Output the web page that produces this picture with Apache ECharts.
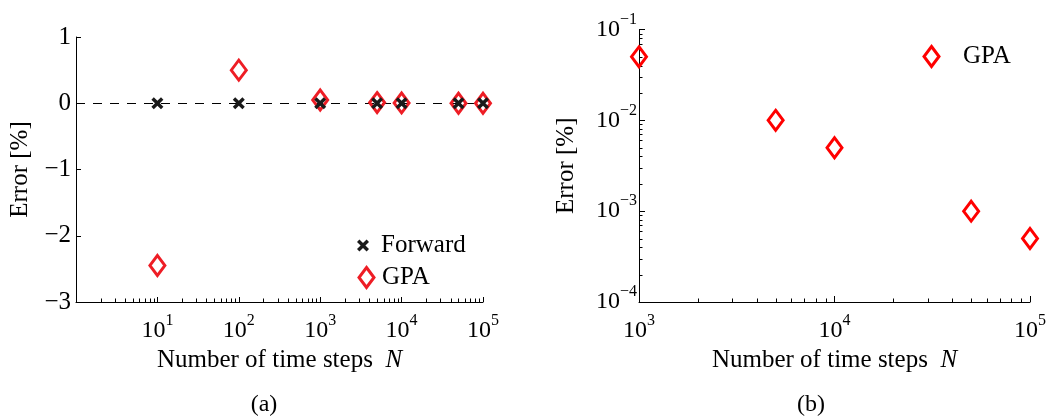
<!DOCTYPE html>
<html>
<head>
<meta charset="utf-8">
<title>Error vs number of time steps</title>
<script src="https://cdn.jsdelivr.net/npm/echarts@6/dist/echarts.min.js"></script>
<style>
  html, body { margin: 0; padding: 0; background: #fff; }
  #chart { width: 1050px; height: 416px; }
</style>
</head>
<body>
<div id="chart"></div>
<script>
// (a) signed error of both methods, (b) GPA error on log-log scale
const stepsA = [10, 100, 1000, 5000, 10000, 50000, 100000];
const forwardErrA = [0, 0, 0, 0, 0, 0, 0];
const gpaErrA = [-2.45, 0.5, 0.05, 0.01, 0.005, 0.001, 0.0005];

const stepsB = [1000, 5000, 10000, 50000, 100000];
const gpaErrB = [0.05, 0.01, 0.005, 0.001, 0.0005];

const FONT = '"Liberation Serif", "DejaVu Serif", serif';
const RED_A = '#ee1d25';
const RED_B = '#ff0000';
const CROSS = 'path://M0,2L2,0L5,3L8,0L10,2L7,5L10,8L8,10L5,7L2,10L0,8L3,5Z';

// minor tick positions (2..9 within each decade)
function minorTicks(fromExp, toExp) {
  const out = [];
  for (let e = fromExp; e < toExp; e++) {
    for (let m = 2; m <= 9; m++) out.push(m * Math.pow(10, e));
  }
  return out;
}

const powLabel = v => {
  const e = Math.round(Math.log10(v));
  return '{b|10}{s|' + String(e).replace('-', '\u2212') + '}';
};
const powRich = {
  b: { fontFamily: FONT, fontSize: 24, lineHeight: 36, color: '#000' },
  s: { fontFamily: FONT, fontSize: 16, lineHeight: 16, verticalAlign: 'top', color: '#000' }
};

const axisLine = { show: true, onZero: false, lineStyle: { color: '#000', width: 1 } };
const nameStyle = {
  fontFamily: FONT, fontSize: 25, color: '#000',
  rich: { i: { fontFamily: FONT, fontSize: 25, fontStyle: 'italic', color: '#000' } }
};

function xTickSeries(xi, yi, values, yBase) {
  return {
    type: 'custom', xAxisIndex: xi, yAxisIndex: yi, silent: true, clip: false, z: 1,
    data: values.map(v => [v, yBase]),
    renderItem: (params, api) => {
      const p = api.coord([api.value(0), api.value(1)]);
      const x = Math.round(p[0]) + 0.5;
      return { type: 'line', shape: { x1: x, y1: p[1], x2: x, y2: p[1] - 3.5 },
               style: { stroke: '#000', lineWidth: 1 } };
    }
  };
}
function yTickSeries(xi, yi, values, xBase) {
  return {
    type: 'custom', xAxisIndex: xi, yAxisIndex: yi, silent: true, clip: false, z: 1,
    data: values.map(v => [xBase, v]),
    renderItem: (params, api) => {
      const p = api.coord([api.value(0), api.value(1)]);
      const y = Math.round(p[1]) + 0.5;
      return { type: 'line', shape: { x1: p[0], y1: y, x2: p[0] + 3.5, y2: y },
               style: { stroke: '#000', lineWidth: 1 } };
    }
  };
}

const legendText = pad => ({ fontFamily: FONT, fontSize: 25, color: '#000', padding: [0, 0, 0, pad] });

const chart = echarts.init(document.getElementById('chart'), null, { renderer: 'canvas' });

chart.setOption({
  backgroundColor: '#fff',
  animation: false,
  textStyle: { fontFamily: FONT },
  grid: [
    { left: 76, top: 37, width: 407, height: 265, containLabel: false },
    { left: 639, top: 29.5, width: 391, height: 272.5, containLabel: false }
  ],
  xAxis: [
    {
      type: 'log', logBase: 10, min: 1, max: 100000, gridIndex: 0,
      axisLine, splitLine: { show: false },
      axisTick: { show: true, inside: true, length: 5, lineStyle: { color: '#000' } },
      axisLabel: {
        margin: 11, color: '#000',
        formatter: v => (Math.round(Math.log10(v)) === 0 ? '' : powLabel(v)),
        rich: powRich
      },
      name: 'Number of time steps  {i|N}', nameLocation: 'middle', nameGap: 43,
      nameTextStyle: nameStyle
    },
    {
      type: 'log', logBase: 10, min: 1000, max: 100000, gridIndex: 1,
      axisLine, splitLine: { show: false },
      axisTick: { show: true, inside: true, length: 6, lineStyle: { color: '#000' } },
      axisLabel: { margin: 11, color: '#000', formatter: powLabel, rich: powRich },
      name: 'Number of time steps  {i|N}', nameLocation: 'middle', nameGap: 43,
      nameTextStyle: nameStyle
    }
  ],
  yAxis: [
    {
      type: 'value', min: -3, max: 1, interval: 1, gridIndex: 0,
      axisLine, splitLine: { show: false },
      axisTick: { show: true, inside: true, length: 5, lineStyle: { color: '#000' } },
      axisLabel: {
        margin: 5, color: '#000', fontFamily: FONT, fontSize: 25,
        formatter: v => String(v).replace('-', '\u2212')
      },
      name: 'Error [%]', nameLocation: 'middle', nameGap: 43, nameRotate: 90,
      nameTextStyle: nameStyle
    },
    {
      type: 'log', logBase: 10, min: 0.0001, max: 0.1, gridIndex: 1,
      axisLine, splitLine: { show: false },
      axisTick: { show: true, inside: true, length: 6, lineStyle: { color: '#000' } },
      axisLabel: { margin: 2, color: '#000', formatter: powLabel, rich: powRich },
      name: 'Error [%]', nameLocation: 'middle', nameGap: 60, nameRotate: 90,
      nameTextStyle: nameStyle
    }
  ],
  legend: [
    {
      data: [{ name: 'Forward', itemStyle: { color: '#1a1a1a', opacity: 1 } }],
      orient: 'vertical', left: 352, top: 228,
      itemWidth: 20, itemHeight: 12, selectedMode: false,
      textStyle: legendText(3)
    },
    {
      data: [{ name: 'GPA', itemStyle: { color: 'rgba(0,0,0,0)', borderColor: RED_A, borderWidth: 3, opacity: 1 } }],
      orient: 'vertical', left: 352.5, top: 260, itemWidth: 15, itemHeight: 20, selectedMode: false,
      textStyle: legendText(3)
    },
    {
      data: [{ name: 'GPA', itemStyle: { color: 'rgba(0,0,0,0)', borderColor: RED_B, borderWidth: 3, opacity: 1 } }],
      orient: 'vertical', left: 917.5, top: 39, itemWidth: 15, itemHeight: 20, selectedMode: false,
      textStyle: legendText(19)
    }
  ],
  graphic: [
    { type: 'text', x: 264, y: 405, style: { text: '(a)', fontFamily: FONT, fontSize: 24,
      fill: '#000', textAlign: 'center', textVerticalAlign: 'middle' } },
    { type: 'text', x: 811, y: 405, style: { text: '(b)', fontFamily: FONT, fontSize: 24,
      fill: '#000', textAlign: 'center', textVerticalAlign: 'middle' } }
  ],
  series: [
    xTickSeries(0, 0, minorTicks(0, 5), -3),
    xTickSeries(1, 1, minorTicks(3, 5), 0.0001),
    yTickSeries(1, 1, minorTicks(-4, -1), 1000),
    {
      name: 'GPA', type: 'scatter', xAxisIndex: 0, yAxisIndex: 0, z: 3,
      data: stepsA.map((n, i) => [n, gpaErrA[i]]),
      symbol: 'diamond', symbolSize: [15, 20],
      itemStyle: { color: 'rgba(0,0,0,0)', borderColor: RED_A, borderWidth: 3, opacity: 1 },
      emphasis: { disabled: true }
    },
    {
      name: 'Forward', type: 'scatter', xAxisIndex: 0, yAxisIndex: 0, z: 4,
      data: stepsA.map((n, i) => [n, forwardErrA[i]]),
      symbol: CROSS, symbolSize: 12, symbolKeepAspect: true,
      itemStyle: { color: '#1a1a1a', opacity: 1 },
      emphasis: { disabled: true },
      markLine: {
        silent: true, symbol: 'none', z: 2,
        label: { show: false },
        lineStyle: { color: '#000', width: 1, type: [9, 8] },
        data: [{ yAxis: 0 }]
      }
    },
    {
      name: 'GPA', type: 'scatter', xAxisIndex: 1, yAxisIndex: 1, z: 3,
      data: stepsB.map((n, i) => [n, gpaErrB[i]]),
      symbol: 'diamond', symbolSize: [15, 20],
      itemStyle: { color: 'rgba(0,0,0,0)', borderColor: RED_B, borderWidth: 3, opacity: 1 },
      emphasis: { disabled: true }
    }
  ]
});
</script>
</body>
</html>
